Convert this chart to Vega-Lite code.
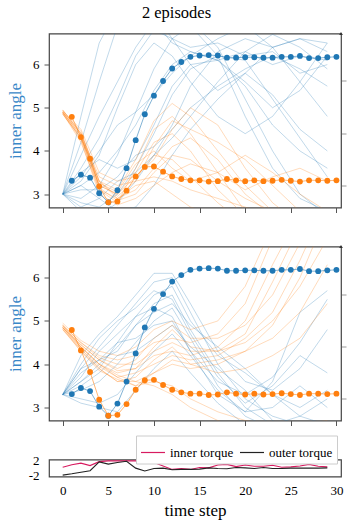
{
"$schema":"https://vega.github.io/schema/vega-lite/v6.json",
"padding":{"left":5,"top":4.5,"right":5,"bottom":5},
"title":{"text":"2 episodes","anchor":"middle","font":"Liberation Serif, serif","fontSize":16.5,"fontWeight":"normal","color":"#000","offset":10},
"config":{
 "font":"Liberation Serif, serif",
 "view":{"stroke":"#444","strokeWidth":1.2},
 "axis":{"grid":false,"domain":false,"tickColor":"#555","tickSize":5,"labelFont":"Liberation Serif, serif","labelFontSize":13,"labelColor":"#000","titleFont":"Liberation Serif, serif","titleFontWeight":"normal","titleColor":"#000","labelPadding":5},
 "legend":{"labelFont":"Liberation Serif, serif"}
},
"datasets":{
"traj":[
{"p":1,"g":"b","id":"b1","x":0,"y":3.0},{"p":1,"g":"b","id":"b1","x":2,"y":4.2},{"p":1,"g":"b","id":"b1","x":4,"y":5.6},{"p":1,"g":"b","id":"b1","x":6,"y":6.9},{"p":1,"g":"b","id":"b1","x":8,"y":7.2},{"p":1,"g":"b","id":"b1","x":10,"y":7.0},{"p":1,"g":"b","id":"b1","x":12,"y":6.5},{"p":1,"g":"b","id":"b1","x":14,"y":6.3},{"p":1,"g":"b","id":"b1","x":17,"y":6.1},{"p":1,"g":"b","id":"b1","x":20,"y":5.5},{"p":1,"g":"b","id":"b1","x":23,"y":4.6},{"p":1,"g":"b","id":"b1","x":26,"y":4.0},{"p":1,"g":"b","id":"b1","x":29,"y":3.6},
{"p":1,"g":"b","id":"b2","x":0,"y":3.0},{"p":1,"g":"b","id":"b2","x":2,"y":3.6},{"p":1,"g":"b","id":"b2","x":4,"y":4.3},{"p":1,"g":"b","id":"b2","x":6,"y":5.2},{"p":1,"g":"b","id":"b2","x":8,"y":6.2},{"p":1,"g":"b","id":"b2","x":10,"y":6.8},{"p":1,"g":"b","id":"b2","x":12,"y":6.6},{"p":1,"g":"b","id":"b2","x":14,"y":6.4},{"p":1,"g":"b","id":"b2","x":17,"y":6.5},{"p":1,"g":"b","id":"b2","x":20,"y":6.2},{"p":1,"g":"b","id":"b2","x":23,"y":6.3},{"p":1,"g":"b","id":"b2","x":26,"y":5.8},{"p":1,"g":"b","id":"b2","x":29,"y":6.0},
{"p":1,"g":"b","id":"b3","x":0,"y":3.0},{"p":1,"g":"b","id":"b3","x":2,"y":3.2},{"p":1,"g":"b","id":"b3","x":4,"y":3.5},{"p":1,"g":"b","id":"b3","x":6,"y":4.0},{"p":1,"g":"b","id":"b3","x":8,"y":4.6},{"p":1,"g":"b","id":"b3","x":10,"y":5.4},{"p":1,"g":"b","id":"b3","x":12,"y":6.0},{"p":1,"g":"b","id":"b3","x":14,"y":6.3},{"p":1,"g":"b","id":"b3","x":17,"y":6.1},{"p":1,"g":"b","id":"b3","x":20,"y":6.3},{"p":1,"g":"b","id":"b3","x":23,"y":6.0},{"p":1,"g":"b","id":"b3","x":26,"y":6.2},{"p":1,"g":"b","id":"b3","x":29,"y":6.1},
{"p":1,"g":"b","id":"b4","x":0,"y":3.0},{"p":1,"g":"b","id":"b4","x":2,"y":2.8},{"p":1,"g":"b","id":"b4","x":4,"y":2.7},{"p":1,"g":"b","id":"b4","x":6,"y":3.0},{"p":1,"g":"b","id":"b4","x":8,"y":3.6},{"p":1,"g":"b","id":"b4","x":10,"y":4.4},{"p":1,"g":"b","id":"b4","x":12,"y":5.3},{"p":1,"g":"b","id":"b4","x":14,"y":5.9},{"p":1,"g":"b","id":"b4","x":17,"y":6.2},{"p":1,"g":"b","id":"b4","x":20,"y":6.1},{"p":1,"g":"b","id":"b4","x":23,"y":5.2},{"p":1,"g":"b","id":"b4","x":26,"y":4.3},{"p":1,"g":"b","id":"b4","x":29,"y":3.4},
{"p":1,"g":"b","id":"b5","x":0,"y":3.0},{"p":1,"g":"b","id":"b5","x":2,"y":3.4},{"p":1,"g":"b","id":"b5","x":4,"y":4.0},{"p":1,"g":"b","id":"b5","x":6,"y":4.6},{"p":1,"g":"b","id":"b5","x":8,"y":4.9},{"p":1,"g":"b","id":"b5","x":10,"y":5.3},{"p":1,"g":"b","id":"b5","x":12,"y":5.8},{"p":1,"g":"b","id":"b5","x":14,"y":6.2},{"p":1,"g":"b","id":"b5","x":17,"y":6.6},{"p":1,"g":"b","id":"b5","x":20,"y":6.9},{"p":1,"g":"b","id":"b5","x":23,"y":6.4},{"p":1,"g":"b","id":"b5","x":26,"y":5.6},{"p":1,"g":"b","id":"b5","x":29,"y":4.8},
{"p":1,"g":"b","id":"b6","x":0,"y":3.0},{"p":1,"g":"b","id":"b6","x":2,"y":2.6},{"p":1,"g":"b","id":"b6","x":4,"y":2.5},{"p":1,"g":"b","id":"b6","x":6,"y":2.8},{"p":1,"g":"b","id":"b6","x":8,"y":3.3},{"p":1,"g":"b","id":"b6","x":10,"y":3.9},{"p":1,"g":"b","id":"b6","x":12,"y":4.6},{"p":1,"g":"b","id":"b6","x":14,"y":5.5},{"p":1,"g":"b","id":"b6","x":17,"y":6.3},{"p":1,"g":"b","id":"b6","x":20,"y":6.6},{"p":1,"g":"b","id":"b6","x":23,"y":6.4},{"p":1,"g":"b","id":"b6","x":26,"y":6.6},{"p":1,"g":"b","id":"b6","x":29,"y":6.5},
{"p":1,"g":"b","id":"b7","x":0,"y":3.0},{"p":1,"g":"b","id":"b7","x":2,"y":3.9},{"p":1,"g":"b","id":"b7","x":4,"y":4.8},{"p":1,"g":"b","id":"b7","x":6,"y":5.6},{"p":1,"g":"b","id":"b7","x":8,"y":6.4},{"p":1,"g":"b","id":"b7","x":10,"y":7.0},{"p":1,"g":"b","id":"b7","x":12,"y":7.2},{"p":1,"g":"b","id":"b7","x":14,"y":7.0},{"p":1,"g":"b","id":"b7","x":17,"y":6.4},{"p":1,"g":"b","id":"b7","x":20,"y":5.2},{"p":1,"g":"b","id":"b7","x":23,"y":4.0},{"p":1,"g":"b","id":"b7","x":26,"y":3.0},{"p":1,"g":"b","id":"b7","x":29,"y":2.5},
{"p":1,"g":"b","id":"b8","x":0,"y":3.0},{"p":1,"g":"b","id":"b8","x":2,"y":3.1},{"p":1,"g":"b","id":"b8","x":4,"y":3.1},{"p":1,"g":"b","id":"b8","x":6,"y":3.4},{"p":1,"g":"b","id":"b8","x":8,"y":3.9},{"p":1,"g":"b","id":"b8","x":10,"y":4.1},{"p":1,"g":"b","id":"b8","x":12,"y":4.5},{"p":1,"g":"b","id":"b8","x":14,"y":5.0},{"p":1,"g":"b","id":"b8","x":17,"y":5.5},{"p":1,"g":"b","id":"b8","x":20,"y":5.9},{"p":1,"g":"b","id":"b8","x":23,"y":6.2},{"p":1,"g":"b","id":"b8","x":26,"y":5.9},{"p":1,"g":"b","id":"b8","x":29,"y":5.5},
{"p":1,"g":"b","id":"b9","x":0,"y":3.0},{"p":1,"g":"b","id":"b9","x":2,"y":3.5},{"p":1,"g":"b","id":"b9","x":4,"y":3.8},{"p":1,"g":"b","id":"b9","x":6,"y":3.6},{"p":1,"g":"b","id":"b9","x":8,"y":3.8},{"p":1,"g":"b","id":"b9","x":10,"y":4.6},{"p":1,"g":"b","id":"b9","x":12,"y":5.5},{"p":1,"g":"b","id":"b9","x":14,"y":6.0},{"p":1,"g":"b","id":"b9","x":17,"y":6.1},{"p":1,"g":"b","id":"b9","x":20,"y":5.6},{"p":1,"g":"b","id":"b9","x":23,"y":5.0},{"p":1,"g":"b","id":"b9","x":26,"y":5.4},{"p":1,"g":"b","id":"b9","x":29,"y":6.2},
{"p":1,"g":"b","id":"b10","x":0,"y":3.0},{"p":1,"g":"b","id":"b10","x":2,"y":2.9},{"p":1,"g":"b","id":"b10","x":4,"y":3.2},{"p":1,"g":"b","id":"b10","x":6,"y":3.9},{"p":1,"g":"b","id":"b10","x":8,"y":4.9},{"p":1,"g":"b","id":"b10","x":10,"y":5.9},{"p":1,"g":"b","id":"b10","x":12,"y":6.6},{"p":1,"g":"b","id":"b10","x":14,"y":6.9},{"p":1,"g":"b","id":"b10","x":17,"y":6.2},{"p":1,"g":"b","id":"b10","x":20,"y":4.8},{"p":1,"g":"b","id":"b10","x":23,"y":3.6},{"p":1,"g":"b","id":"b10","x":26,"y":2.9},{"p":1,"g":"b","id":"b10","x":29,"y":2.6},
{"p":1,"g":"b","id":"b11","x":0,"y":3.0},{"p":1,"g":"b","id":"b11","x":2,"y":3.3},{"p":1,"g":"b","id":"b11","x":4,"y":3.9},{"p":1,"g":"b","id":"b11","x":6,"y":5.0},{"p":1,"g":"b","id":"b11","x":8,"y":6.0},{"p":1,"g":"b","id":"b11","x":10,"y":6.5},{"p":1,"g":"b","id":"b11","x":12,"y":6.2},{"p":1,"g":"b","id":"b11","x":14,"y":5.6},{"p":1,"g":"b","id":"b11","x":17,"y":4.8},{"p":1,"g":"b","id":"b11","x":20,"y":4.4},{"p":1,"g":"b","id":"b11","x":23,"y":4.8},{"p":1,"g":"b","id":"b11","x":26,"y":5.6},{"p":1,"g":"b","id":"b11","x":29,"y":6.5},
{"p":1,"g":"b","id":"b12","x":0,"y":3.0},{"p":1,"g":"b","id":"b12","x":2,"y":2.7},{"p":1,"g":"b","id":"b12","x":4,"y":2.9},{"p":1,"g":"b","id":"b12","x":6,"y":3.3},{"p":1,"g":"b","id":"b12","x":8,"y":3.5},{"p":1,"g":"b","id":"b12","x":10,"y":3.9},{"p":1,"g":"b","id":"b12","x":12,"y":4.3},{"p":1,"g":"b","id":"b12","x":14,"y":4.8},{"p":1,"g":"b","id":"b12","x":17,"y":5.6},{"p":1,"g":"b","id":"b12","x":20,"y":6.3},{"p":1,"g":"b","id":"b12","x":23,"y":6.7},{"p":1,"g":"b","id":"b12","x":26,"y":6.4},{"p":1,"g":"b","id":"b12","x":29,"y":5.9},
{"p":1,"g":"b","id":"b13","x":0,"y":3.0},{"p":1,"g":"b","id":"b13","x":2,"y":4.8},{"p":1,"g":"b","id":"b13","x":4,"y":6.5},{"p":1,"g":"b","id":"b13","x":6,"y":7.3},{"p":1,"g":"b","id":"b13","x":8,"y":7.5},{"p":1,"g":"b","id":"b13","x":10,"y":7.2},{"p":1,"g":"b","id":"b13","x":12,"y":6.6},{"p":1,"g":"b","id":"b13","x":14,"y":6.0},{"p":1,"g":"b","id":"b13","x":17,"y":5.4},{"p":1,"g":"b","id":"b13","x":20,"y":5.8},{"p":1,"g":"b","id":"b13","x":23,"y":6.4},{"p":1,"g":"b","id":"b13","x":26,"y":6.6},{"p":1,"g":"b","id":"b13","x":29,"y":6.3},
{"p":1,"g":"b","id":"b14","x":0,"y":3.0},{"p":1,"g":"b","id":"b14","x":2,"y":3.2},{"p":1,"g":"b","id":"b14","x":4,"y":2.9},{"p":1,"g":"b","id":"b14","x":6,"y":2.6},{"p":1,"g":"b","id":"b14","x":8,"y":2.7},{"p":1,"g":"b","id":"b14","x":10,"y":3.2},{"p":1,"g":"b","id":"b14","x":12,"y":3.9},{"p":1,"g":"b","id":"b14","x":14,"y":4.5},{"p":1,"g":"b","id":"b14","x":17,"y":5.2},{"p":1,"g":"b","id":"b14","x":20,"y":5.8},{"p":1,"g":"b","id":"b14","x":23,"y":5.3},{"p":1,"g":"b","id":"b14","x":26,"y":4.5},{"p":1,"g":"b","id":"b14","x":29,"y":4.0},
{"p":1,"g":"o","id":"o1","x":0,"y":4.9},{"p":1,"g":"o","id":"o1","x":2,"y":4.35},{"p":1,"g":"o","id":"o1","x":4,"y":3.2},{"p":1,"g":"o","id":"o1","x":6,"y":3.0},{"p":1,"g":"o","id":"o1","x":8,"y":3.4},{"p":1,"g":"o","id":"o1","x":10,"y":3.9},{"p":1,"g":"o","id":"o1","x":12,"y":3.8},{"p":1,"g":"o","id":"o1","x":14,"y":3.4},{"p":1,"g":"o","id":"o1","x":17,"y":2.8},{"p":1,"g":"o","id":"o1","x":20,"y":2.3},{"p":1,"g":"o","id":"o1","x":23,"y":2.0},{"p":1,"g":"o","id":"o1","x":26,"y":2.0},{"p":1,"g":"o","id":"o1","x":29,"y":2.0},
{"p":1,"g":"o","id":"o2","x":0,"y":4.95},{"p":1,"g":"o","id":"o2","x":2,"y":4.4},{"p":1,"g":"o","id":"o2","x":4,"y":3.3},{"p":1,"g":"o","id":"o2","x":6,"y":2.9},{"p":1,"g":"o","id":"o2","x":8,"y":3.1},{"p":1,"g":"o","id":"o2","x":10,"y":3.6},{"p":1,"g":"o","id":"o2","x":12,"y":4.1},{"p":1,"g":"o","id":"o2","x":14,"y":4.3},{"p":1,"g":"o","id":"o2","x":17,"y":3.8},{"p":1,"g":"o","id":"o2","x":20,"y":3.0},{"p":1,"g":"o","id":"o2","x":23,"y":2.5},{"p":1,"g":"o","id":"o2","x":26,"y":2.2},{"p":1,"g":"o","id":"o2","x":29,"y":2.0},
{"p":1,"g":"o","id":"o3","x":0,"y":4.85},{"p":1,"g":"o","id":"o3","x":2,"y":4.3},{"p":1,"g":"o","id":"o3","x":4,"y":3.1},{"p":1,"g":"o","id":"o3","x":6,"y":2.8},{"p":1,"g":"o","id":"o3","x":8,"y":3.6},{"p":1,"g":"o","id":"o3","x":10,"y":4.5},{"p":1,"g":"o","id":"o3","x":12,"y":4.8},{"p":1,"g":"o","id":"o3","x":14,"y":4.4},{"p":1,"g":"o","id":"o3","x":17,"y":3.5},{"p":1,"g":"o","id":"o3","x":20,"y":2.6},{"p":1,"g":"o","id":"o3","x":23,"y":2.2},{"p":1,"g":"o","id":"o3","x":26,"y":2.0},{"p":1,"g":"o","id":"o3","x":29,"y":2.0},
{"p":1,"g":"o","id":"o4","x":0,"y":4.9},{"p":1,"g":"o","id":"o4","x":2,"y":4.4},{"p":1,"g":"o","id":"o4","x":4,"y":3.4},{"p":1,"g":"o","id":"o4","x":6,"y":3.2},{"p":1,"g":"o","id":"o4","x":8,"y":3.3},{"p":1,"g":"o","id":"o4","x":10,"y":3.4},{"p":1,"g":"o","id":"o4","x":12,"y":3.3},{"p":1,"g":"o","id":"o4","x":14,"y":3.1},{"p":1,"g":"o","id":"o4","x":17,"y":2.9},{"p":1,"g":"o","id":"o4","x":20,"y":2.7},{"p":1,"g":"o","id":"o4","x":23,"y":2.5},{"p":1,"g":"o","id":"o4","x":26,"y":2.3},{"p":1,"g":"o","id":"o4","x":29,"y":2.2},
{"p":1,"g":"o","id":"o5","x":0,"y":4.92},{"p":1,"g":"o","id":"o5","x":2,"y":4.45},{"p":1,"g":"o","id":"o5","x":4,"y":3.3},{"p":1,"g":"o","id":"o5","x":6,"y":3.1},{"p":1,"g":"o","id":"o5","x":8,"y":3.8},{"p":1,"g":"o","id":"o5","x":10,"y":4.7},{"p":1,"g":"o","id":"o5","x":12,"y":5.1},{"p":1,"g":"o","id":"o5","x":14,"y":4.8},{"p":1,"g":"o","id":"o5","x":17,"y":4.0},{"p":1,"g":"o","id":"o5","x":20,"y":3.2},{"p":1,"g":"o","id":"o5","x":23,"y":2.6},{"p":1,"g":"o","id":"o5","x":26,"y":2.3},{"p":1,"g":"o","id":"o5","x":29,"y":2.1},
{"p":1,"g":"o","id":"o6","x":0,"y":4.88},{"p":1,"g":"o","id":"o6","x":2,"y":4.25},{"p":1,"g":"o","id":"o6","x":4,"y":3.0},{"p":1,"g":"o","id":"o6","x":6,"y":2.75},{"p":1,"g":"o","id":"o6","x":8,"y":2.9},{"p":1,"g":"o","id":"o6","x":10,"y":3.2},{"p":1,"g":"o","id":"o6","x":12,"y":3.5},{"p":1,"g":"o","id":"o6","x":14,"y":3.7},{"p":1,"g":"o","id":"o6","x":17,"y":3.5},{"p":1,"g":"o","id":"o6","x":20,"y":3.1},{"p":1,"g":"o","id":"o6","x":23,"y":3.4},{"p":1,"g":"o","id":"o6","x":26,"y":3.6},{"p":1,"g":"o","id":"o6","x":29,"y":3.3},
{"p":1,"g":"o","id":"o7","x":0,"y":4.9},{"p":1,"g":"o","id":"o7","x":2,"y":4.3},{"p":1,"g":"o","id":"o7","x":4,"y":3.2},{"p":1,"g":"o","id":"o7","x":6,"y":3.0},{"p":1,"g":"o","id":"o7","x":8,"y":3.5},{"p":1,"g":"o","id":"o7","x":10,"y":4.2},{"p":1,"g":"o","id":"o7","x":12,"y":4.4},{"p":1,"g":"o","id":"o7","x":14,"y":4.0},{"p":1,"g":"o","id":"o7","x":17,"y":3.1},{"p":1,"g":"o","id":"o7","x":20,"y":2.5},{"p":1,"g":"o","id":"o7","x":23,"y":2.1},{"p":1,"g":"o","id":"o7","x":26,"y":2.0},{"p":1,"g":"o","id":"o7","x":29,"y":2.0},
{"p":1,"g":"o","id":"o8","x":0,"y":4.93},{"p":1,"g":"o","id":"o8","x":2,"y":4.5},{"p":1,"g":"o","id":"o8","x":4,"y":3.5},{"p":1,"g":"o","id":"o8","x":6,"y":3.3},{"p":1,"g":"o","id":"o8","x":8,"y":3.4},{"p":1,"g":"o","id":"o8","x":10,"y":3.8},{"p":1,"g":"o","id":"o8","x":12,"y":4.5},{"p":1,"g":"o","id":"o8","x":14,"y":5.0},{"p":1,"g":"o","id":"o8","x":17,"y":4.6},{"p":1,"g":"o","id":"o8","x":20,"y":3.6},{"p":1,"g":"o","id":"o8","x":23,"y":2.8},{"p":1,"g":"o","id":"o8","x":26,"y":2.3},{"p":1,"g":"o","id":"o8","x":29,"y":2.0},
{"p":1,"g":"o","id":"o9","x":0,"y":4.87},{"p":1,"g":"o","id":"o9","x":2,"y":4.2},{"p":1,"g":"o","id":"o9","x":4,"y":3.1},{"p":1,"g":"o","id":"o9","x":6,"y":2.9},{"p":1,"g":"o","id":"o9","x":8,"y":3.2},{"p":1,"g":"o","id":"o9","x":10,"y":3.3},{"p":1,"g":"o","id":"o9","x":12,"y":3.0},{"p":1,"g":"o","id":"o9","x":14,"y":2.7},{"p":1,"g":"o","id":"o9","x":17,"y":2.5},{"p":1,"g":"o","id":"o9","x":20,"y":2.3},{"p":1,"g":"o","id":"o9","x":23,"y":2.2},{"p":1,"g":"o","id":"o9","x":26,"y":2.1},{"p":1,"g":"o","id":"o9","x":29,"y":2.0},
{"p":1,"g":"o","id":"o10","x":0,"y":4.9},{"p":1,"g":"o","id":"o10","x":2,"y":4.35},{"p":1,"g":"o","id":"o10","x":4,"y":3.25},{"p":1,"g":"o","id":"o10","x":6,"y":3.05},{"p":1,"g":"o","id":"o10","x":8,"y":3.7},{"p":1,"g":"o","id":"o10","x":10,"y":4.0},{"p":1,"g":"o","id":"o10","x":12,"y":3.6},{"p":1,"g":"o","id":"o10","x":14,"y":3.3},{"p":1,"g":"o","id":"o10","x":17,"y":3.5},{"p":1,"g":"o","id":"o10","x":20,"y":3.9},{"p":1,"g":"o","id":"o10","x":23,"y":3.5},{"p":1,"g":"o","id":"o10","x":26,"y":3.0},{"p":1,"g":"o","id":"o10","x":29,"y":2.6},
{"p":1,"g":"o","id":"o11","x":0,"y":4.95},{"p":1,"g":"o","id":"o11","x":2,"y":4.4},{"p":1,"g":"o","id":"o11","x":4,"y":3.3},{"p":1,"g":"o","id":"o11","x":6,"y":2.95},{"p":1,"g":"o","id":"o11","x":8,"y":3.3},{"p":1,"g":"o","id":"o11","x":10,"y":4.1},{"p":1,"g":"o","id":"o11","x":12,"y":4.7},{"p":1,"g":"o","id":"o11","x":14,"y":4.5},{"p":1,"g":"o","id":"o11","x":17,"y":4.2},{"p":1,"g":"o","id":"o11","x":20,"y":3.8},{"p":1,"g":"o","id":"o11","x":23,"y":3.2},{"p":1,"g":"o","id":"o11","x":26,"y":2.6},{"p":1,"g":"o","id":"o11","x":29,"y":2.2},
{"p":1,"g":"o","id":"o12","x":0,"y":4.86},{"p":1,"g":"o","id":"o12","x":2,"y":4.3},{"p":1,"g":"o","id":"o12","x":4,"y":3.15},{"p":1,"g":"o","id":"o12","x":6,"y":2.85},{"p":1,"g":"o","id":"o12","x":8,"y":3.0},{"p":1,"g":"o","id":"o12","x":10,"y":3.5},{"p":1,"g":"o","id":"o12","x":12,"y":3.9},{"p":1,"g":"o","id":"o12","x":14,"y":3.8},{"p":1,"g":"o","id":"o12","x":17,"y":3.3},{"p":1,"g":"o","id":"o12","x":20,"y":2.9},{"p":1,"g":"o","id":"o12","x":23,"y":2.6},{"p":1,"g":"o","id":"o12","x":26,"y":2.4},{"p":1,"g":"o","id":"o12","x":29,"y":2.3},
{"p":2,"g":"b","id":"c1","x":0,"y":3.3},{"p":2,"g":"b","id":"c1","x":2,"y":3.9},{"p":2,"g":"b","id":"c1","x":4,"y":4.4},{"p":2,"g":"b","id":"c1","x":6,"y":4.9},{"p":2,"g":"b","id":"c1","x":8,"y":5.4},{"p":2,"g":"b","id":"c1","x":10,"y":5.9},{"p":2,"g":"b","id":"c1","x":12,"y":6.0},{"p":2,"g":"b","id":"c1","x":14,"y":5.2},{"p":2,"g":"b","id":"c1","x":17,"y":4.0},{"p":2,"g":"b","id":"c1","x":20,"y":3.2},{"p":2,"g":"b","id":"c1","x":23,"y":2.8},{"p":2,"g":"b","id":"c1","x":26,"y":2.6},{"p":2,"g":"b","id":"c1","x":29,"y":2.5},
{"p":2,"g":"b","id":"c2","x":0,"y":3.3},{"p":2,"g":"b","id":"c2","x":2,"y":3.6},{"p":2,"g":"b","id":"c2","x":4,"y":4.0},{"p":2,"g":"b","id":"c2","x":6,"y":4.4},{"p":2,"g":"b","id":"c2","x":8,"y":4.9},{"p":2,"g":"b","id":"c2","x":10,"y":5.4},{"p":2,"g":"b","id":"c2","x":12,"y":5.6},{"p":2,"g":"b","id":"c2","x":14,"y":4.8},{"p":2,"g":"b","id":"c2","x":17,"y":3.8},{"p":2,"g":"b","id":"c2","x":20,"y":3.0},{"p":2,"g":"b","id":"c2","x":23,"y":2.6},{"p":2,"g":"b","id":"c2","x":26,"y":2.8},{"p":2,"g":"b","id":"c2","x":29,"y":3.2},
{"p":2,"g":"b","id":"c3","x":0,"y":3.3},{"p":2,"g":"b","id":"c3","x":2,"y":4.2},{"p":2,"g":"b","id":"c3","x":4,"y":4.7},{"p":2,"g":"b","id":"c3","x":6,"y":5.1},{"p":2,"g":"b","id":"c3","x":8,"y":5.6},{"p":2,"g":"b","id":"c3","x":10,"y":6.1},{"p":2,"g":"b","id":"c3","x":12,"y":6.1},{"p":2,"g":"b","id":"c3","x":14,"y":5.4},{"p":2,"g":"b","id":"c3","x":17,"y":4.3},{"p":2,"g":"b","id":"c3","x":20,"y":3.6},{"p":2,"g":"b","id":"c3","x":23,"y":3.4},{"p":2,"g":"b","id":"c3","x":26,"y":3.9},{"p":2,"g":"b","id":"c3","x":29,"y":4.8},
{"p":2,"g":"b","id":"c4","x":0,"y":3.3},{"p":2,"g":"b","id":"c4","x":2,"y":3.4},{"p":2,"g":"b","id":"c4","x":4,"y":3.6},{"p":2,"g":"b","id":"c4","x":6,"y":4.0},{"p":2,"g":"b","id":"c4","x":8,"y":4.5},{"p":2,"g":"b","id":"c4","x":10,"y":5.0},{"p":2,"g":"b","id":"c4","x":12,"y":5.3},{"p":2,"g":"b","id":"c4","x":14,"y":4.6},{"p":2,"g":"b","id":"c4","x":17,"y":3.5},{"p":2,"g":"b","id":"c4","x":20,"y":2.8},{"p":2,"g":"b","id":"c4","x":23,"y":2.5},{"p":2,"g":"b","id":"c4","x":26,"y":2.4},{"p":2,"g":"b","id":"c4","x":29,"y":2.5},
{"p":2,"g":"b","id":"c5","x":0,"y":3.3},{"p":2,"g":"b","id":"c5","x":2,"y":3.8},{"p":2,"g":"b","id":"c5","x":4,"y":4.1},{"p":2,"g":"b","id":"c5","x":6,"y":4.5},{"p":2,"g":"b","id":"c5","x":8,"y":4.6},{"p":2,"g":"b","id":"c5","x":10,"y":4.9},{"p":2,"g":"b","id":"c5","x":12,"y":5.0},{"p":2,"g":"b","id":"c5","x":14,"y":4.3},{"p":2,"g":"b","id":"c5","x":17,"y":3.6},{"p":2,"g":"b","id":"c5","x":20,"y":3.3},{"p":2,"g":"b","id":"c5","x":23,"y":3.7},{"p":2,"g":"b","id":"c5","x":26,"y":4.5},{"p":2,"g":"b","id":"c5","x":29,"y":5.5},
{"p":2,"g":"b","id":"c6","x":0,"y":3.3},{"p":2,"g":"b","id":"c6","x":2,"y":3.2},{"p":2,"g":"b","id":"c6","x":4,"y":3.1},{"p":2,"g":"b","id":"c6","x":6,"y":3.3},{"p":2,"g":"b","id":"c6","x":8,"y":3.8},{"p":2,"g":"b","id":"c6","x":10,"y":4.3},{"p":2,"g":"b","id":"c6","x":12,"y":4.7},{"p":2,"g":"b","id":"c6","x":14,"y":4.2},{"p":2,"g":"b","id":"c6","x":17,"y":3.4},{"p":2,"g":"b","id":"c6","x":20,"y":2.9},{"p":2,"g":"b","id":"c6","x":23,"y":3.0},{"p":2,"g":"b","id":"c6","x":26,"y":3.5},{"p":2,"g":"b","id":"c6","x":29,"y":3.0},
{"p":2,"g":"b","id":"c7","x":0,"y":3.3},{"p":2,"g":"b","id":"c7","x":2,"y":3.7},{"p":2,"g":"b","id":"c7","x":4,"y":4.3},{"p":2,"g":"b","id":"c7","x":6,"y":4.7},{"p":2,"g":"b","id":"c7","x":8,"y":5.1},{"p":2,"g":"b","id":"c7","x":10,"y":5.6},{"p":2,"g":"b","id":"c7","x":12,"y":5.8},{"p":2,"g":"b","id":"c7","x":14,"y":5.0},{"p":2,"g":"b","id":"c7","x":17,"y":4.2},{"p":2,"g":"b","id":"c7","x":20,"y":3.8},{"p":2,"g":"b","id":"c7","x":23,"y":3.3},{"p":2,"g":"b","id":"c7","x":26,"y":2.8},{"p":2,"g":"b","id":"c7","x":29,"y":2.6},
{"p":2,"g":"b","id":"c8","x":0,"y":3.3},{"p":2,"g":"b","id":"c8","x":2,"y":3.5},{"p":2,"g":"b","id":"c8","x":4,"y":3.8},{"p":2,"g":"b","id":"c8","x":6,"y":4.2},{"p":2,"g":"b","id":"c8","x":8,"y":4.3},{"p":2,"g":"b","id":"c8","x":10,"y":4.6},{"p":2,"g":"b","id":"c8","x":12,"y":4.9},{"p":2,"g":"b","id":"c8","x":14,"y":4.4},{"p":2,"g":"b","id":"c8","x":17,"y":3.9},{"p":2,"g":"b","id":"c8","x":20,"y":3.4},{"p":2,"g":"b","id":"c8","x":23,"y":2.7},{"p":2,"g":"b","id":"c8","x":26,"y":2.4},{"p":2,"g":"b","id":"c8","x":29,"y":2.3},
{"p":2,"g":"b","id":"c9","x":0,"y":3.3},{"p":2,"g":"b","id":"c9","x":2,"y":4.0},{"p":2,"g":"b","id":"c9","x":4,"y":4.6},{"p":2,"g":"b","id":"c9","x":6,"y":5.0},{"p":2,"g":"b","id":"c9","x":8,"y":5.3},{"p":2,"g":"b","id":"c9","x":10,"y":5.7},{"p":2,"g":"b","id":"c9","x":12,"y":5.5},{"p":2,"g":"b","id":"c9","x":14,"y":4.7},{"p":2,"g":"b","id":"c9","x":17,"y":3.7},{"p":2,"g":"b","id":"c9","x":20,"y":3.1},{"p":2,"g":"b","id":"c9","x":23,"y":3.5},{"p":2,"g":"b","id":"c9","x":26,"y":4.2},{"p":2,"g":"b","id":"c9","x":29,"y":3.8},
{"p":2,"g":"b","id":"c10","x":0,"y":3.3},{"p":2,"g":"b","id":"c10","x":2,"y":3.1},{"p":2,"g":"b","id":"c10","x":4,"y":3.0},{"p":2,"g":"b","id":"c10","x":6,"y":2.9},{"p":2,"g":"b","id":"c10","x":8,"y":3.4},{"p":2,"g":"b","id":"c10","x":10,"y":3.9},{"p":2,"g":"b","id":"c10","x":12,"y":4.3},{"p":2,"g":"b","id":"c10","x":14,"y":3.8},{"p":2,"g":"b","id":"c10","x":17,"y":3.1},{"p":2,"g":"b","id":"c10","x":20,"y":2.6},{"p":2,"g":"b","id":"c10","x":23,"y":2.4},{"p":2,"g":"b","id":"c10","x":26,"y":2.3},{"p":2,"g":"b","id":"c10","x":29,"y":2.2},
{"p":2,"g":"b","id":"c11","x":0,"y":3.3},{"p":2,"g":"b","id":"c11","x":2,"y":3.6},{"p":2,"g":"b","id":"c11","x":4,"y":3.9},{"p":2,"g":"b","id":"c11","x":6,"y":4.5},{"p":2,"g":"b","id":"c11","x":8,"y":5.1},{"p":2,"g":"b","id":"c11","x":10,"y":5.3},{"p":2,"g":"b","id":"c11","x":12,"y":5.1},{"p":2,"g":"b","id":"c11","x":14,"y":4.3},{"p":2,"g":"b","id":"c11","x":17,"y":3.3},{"p":2,"g":"b","id":"c11","x":20,"y":2.9},{"p":2,"g":"b","id":"c11","x":23,"y":3.6},{"p":2,"g":"b","id":"c11","x":26,"y":5.2},{"p":2,"g":"b","id":"c11","x":29,"y":5.7},
{"p":2,"g":"b","id":"c12","x":0,"y":3.3},{"p":2,"g":"b","id":"c12","x":2,"y":3.9},{"p":2,"g":"b","id":"c12","x":4,"y":4.1},{"p":2,"g":"b","id":"c12","x":6,"y":4.3},{"p":2,"g":"b","id":"c12","x":8,"y":4.9},{"p":2,"g":"b","id":"c12","x":10,"y":5.2},{"p":2,"g":"b","id":"c12","x":12,"y":5.4},{"p":2,"g":"b","id":"c12","x":14,"y":4.9},{"p":2,"g":"b","id":"c12","x":17,"y":4.4},{"p":2,"g":"b","id":"c12","x":20,"y":3.9},{"p":2,"g":"b","id":"c12","x":23,"y":3.3},{"p":2,"g":"b","id":"c12","x":26,"y":3.0},{"p":2,"g":"b","id":"c12","x":29,"y":3.4},
{"p":2,"g":"o","id":"q1","x":0,"y":4.85},{"p":2,"g":"o","id":"q1","x":2,"y":4.4},{"p":2,"g":"o","id":"q1","x":4,"y":4.0},{"p":2,"g":"o","id":"q1","x":6,"y":3.8},{"p":2,"g":"o","id":"q1","x":8,"y":3.9},{"p":2,"g":"o","id":"q1","x":10,"y":4.2},{"p":2,"g":"o","id":"q1","x":12,"y":4.3},{"p":2,"g":"o","id":"q1","x":14,"y":4.2},{"p":2,"g":"o","id":"q1","x":17,"y":4.4},{"p":2,"g":"o","id":"q1","x":20,"y":5.0},{"p":2,"g":"o","id":"q1","x":23,"y":6.3},{"p":2,"g":"o","id":"q1","x":26,"y":7.5},{"p":2,"g":"o","id":"q1","x":29,"y":8.0},
{"p":2,"g":"o","id":"q2","x":0,"y":4.9},{"p":2,"g":"o","id":"q2","x":2,"y":4.5},{"p":2,"g":"o","id":"q2","x":4,"y":4.2},{"p":2,"g":"o","id":"q2","x":6,"y":4.1},{"p":2,"g":"o","id":"q2","x":8,"y":4.2},{"p":2,"g":"o","id":"q2","x":10,"y":4.5},{"p":2,"g":"o","id":"q2","x":12,"y":4.6},{"p":2,"g":"o","id":"q2","x":14,"y":4.5},{"p":2,"g":"o","id":"q2","x":17,"y":4.7},{"p":2,"g":"o","id":"q2","x":20,"y":5.4},{"p":2,"g":"o","id":"q2","x":23,"y":6.9},{"p":2,"g":"o","id":"q2","x":26,"y":7.8},{"p":2,"g":"o","id":"q2","x":29,"y":8.0},
{"p":2,"g":"o","id":"q3","x":0,"y":4.8},{"p":2,"g":"o","id":"q3","x":2,"y":4.3},{"p":2,"g":"o","id":"q3","x":4,"y":3.9},{"p":2,"g":"o","id":"q3","x":6,"y":3.6},{"p":2,"g":"o","id":"q3","x":8,"y":3.6},{"p":2,"g":"o","id":"q3","x":10,"y":3.8},{"p":2,"g":"o","id":"q3","x":12,"y":4.0},{"p":2,"g":"o","id":"q3","x":14,"y":3.9},{"p":2,"g":"o","id":"q3","x":17,"y":4.0},{"p":2,"g":"o","id":"q3","x":20,"y":4.3},{"p":2,"g":"o","id":"q3","x":23,"y":4.9},{"p":2,"g":"o","id":"q3","x":26,"y":6.0},{"p":2,"g":"o","id":"q3","x":29,"y":7.5},
{"p":2,"g":"o","id":"q4","x":0,"y":4.85},{"p":2,"g":"o","id":"q4","x":2,"y":4.45},{"p":2,"g":"o","id":"q4","x":4,"y":4.1},{"p":2,"g":"o","id":"q4","x":6,"y":3.9},{"p":2,"g":"o","id":"q4","x":8,"y":4.1},{"p":2,"g":"o","id":"q4","x":10,"y":4.6},{"p":2,"g":"o","id":"q4","x":12,"y":4.9},{"p":2,"g":"o","id":"q4","x":14,"y":4.6},{"p":2,"g":"o","id":"q4","x":17,"y":4.6},{"p":2,"g":"o","id":"q4","x":20,"y":4.9},{"p":2,"g":"o","id":"q4","x":23,"y":5.6},{"p":2,"g":"o","id":"q4","x":26,"y":6.8},{"p":2,"g":"o","id":"q4","x":29,"y":8.0},
{"p":2,"g":"o","id":"q5","x":0,"y":4.9},{"p":2,"g":"o","id":"q5","x":2,"y":4.4},{"p":2,"g":"o","id":"q5","x":4,"y":4.0},{"p":2,"g":"o","id":"q5","x":6,"y":3.7},{"p":2,"g":"o","id":"q5","x":8,"y":3.5},{"p":2,"g":"o","id":"q5","x":10,"y":3.6},{"p":2,"g":"o","id":"q5","x":12,"y":3.5},{"p":2,"g":"o","id":"q5","x":14,"y":3.2},{"p":2,"g":"o","id":"q5","x":17,"y":2.9},{"p":2,"g":"o","id":"q5","x":20,"y":2.7},{"p":2,"g":"o","id":"q5","x":23,"y":2.6},{"p":2,"g":"o","id":"q5","x":26,"y":2.6},{"p":2,"g":"o","id":"q5","x":29,"y":2.7},
{"p":2,"g":"o","id":"q6","x":0,"y":4.95},{"p":2,"g":"o","id":"q6","x":2,"y":4.55},{"p":2,"g":"o","id":"q6","x":4,"y":4.3},{"p":2,"g":"o","id":"q6","x":6,"y":4.2},{"p":2,"g":"o","id":"q6","x":8,"y":4.4},{"p":2,"g":"o","id":"q6","x":10,"y":4.8},{"p":2,"g":"o","id":"q6","x":12,"y":5.0},{"p":2,"g":"o","id":"q6","x":14,"y":4.8},{"p":2,"g":"o","id":"q6","x":17,"y":5.0},{"p":2,"g":"o","id":"q6","x":20,"y":5.8},{"p":2,"g":"o","id":"q6","x":23,"y":7.2},{"p":2,"g":"o","id":"q6","x":26,"y":8.0},{"p":2,"g":"o","id":"q6","x":29,"y":8.0},
{"p":2,"g":"o","id":"q7","x":0,"y":4.8},{"p":2,"g":"o","id":"q7","x":2,"y":4.35},{"p":2,"g":"o","id":"q7","x":4,"y":3.95},{"p":2,"g":"o","id":"q7","x":6,"y":3.7},{"p":2,"g":"o","id":"q7","x":8,"y":3.8},{"p":2,"g":"o","id":"q7","x":10,"y":4.0},{"p":2,"g":"o","id":"q7","x":12,"y":4.2},{"p":2,"g":"o","id":"q7","x":14,"y":4.1},{"p":2,"g":"o","id":"q7","x":17,"y":4.2},{"p":2,"g":"o","id":"q7","x":20,"y":4.6},{"p":2,"g":"o","id":"q7","x":23,"y":5.2},{"p":2,"g":"o","id":"q7","x":26,"y":6.4},{"p":2,"g":"o","id":"q7","x":29,"y":7.8},
{"p":2,"g":"o","id":"q8","x":0,"y":4.85},{"p":2,"g":"o","id":"q8","x":2,"y":4.4},{"p":2,"g":"o","id":"q8","x":4,"y":4.0},{"p":2,"g":"o","id":"q8","x":6,"y":3.75},{"p":2,"g":"o","id":"q8","x":8,"y":3.6},{"p":2,"g":"o","id":"q8","x":10,"y":3.5},{"p":2,"g":"o","id":"q8","x":12,"y":3.3},{"p":2,"g":"o","id":"q8","x":14,"y":3.0},{"p":2,"g":"o","id":"q8","x":17,"y":2.7},{"p":2,"g":"o","id":"q8","x":20,"y":2.5},{"p":2,"g":"o","id":"q8","x":23,"y":2.5},{"p":2,"g":"o","id":"q8","x":26,"y":2.6},{"p":2,"g":"o","id":"q8","x":29,"y":2.6},
{"p":2,"g":"o","id":"q9","x":0,"y":4.9},{"p":2,"g":"o","id":"q9","x":2,"y":4.5},{"p":2,"g":"o","id":"q9","x":4,"y":4.15},{"p":2,"g":"o","id":"q9","x":6,"y":4.0},{"p":2,"g":"o","id":"q9","x":8,"y":4.0},{"p":2,"g":"o","id":"q9","x":10,"y":4.3},{"p":2,"g":"o","id":"q9","x":12,"y":4.5},{"p":2,"g":"o","id":"q9","x":14,"y":4.3},{"p":2,"g":"o","id":"q9","x":17,"y":4.3},{"p":2,"g":"o","id":"q9","x":20,"y":4.7},{"p":2,"g":"o","id":"q9","x":23,"y":5.9},{"p":2,"g":"o","id":"q9","x":26,"y":7.2},{"p":2,"g":"o","id":"q9","x":29,"y":8.0},
{"p":2,"g":"o","id":"q10","x":0,"y":4.85},{"p":2,"g":"o","id":"q10","x":2,"y":4.35},{"p":2,"g":"o","id":"q10","x":4,"y":3.9},{"p":2,"g":"o","id":"q10","x":6,"y":3.6},{"p":2,"g":"o","id":"q10","x":8,"y":3.7},{"p":2,"g":"o","id":"q10","x":10,"y":4.1},{"p":2,"g":"o","id":"q10","x":12,"y":4.4},{"p":2,"g":"o","id":"q10","x":14,"y":4.0},{"p":2,"g":"o","id":"q10","x":17,"y":3.8},{"p":2,"g":"o","id":"q10","x":20,"y":3.9},{"p":2,"g":"o","id":"q10","x":23,"y":4.2},{"p":2,"g":"o","id":"q10","x":26,"y":4.6},{"p":2,"g":"o","id":"q10","x":29,"y":5.4},
{"p":2,"g":"o","id":"q11","x":0,"y":4.88},{"p":2,"g":"o","id":"q11","x":2,"y":4.45},{"p":2,"g":"o","id":"q11","x":4,"y":4.1},{"p":2,"g":"o","id":"q11","x":6,"y":3.85},{"p":2,"g":"o","id":"q11","x":8,"y":3.9},{"p":2,"g":"o","id":"q11","x":10,"y":4.4},{"p":2,"g":"o","id":"q11","x":12,"y":4.8},{"p":2,"g":"o","id":"q11","x":14,"y":4.4},{"p":2,"g":"o","id":"q11","x":17,"y":4.3},{"p":2,"g":"o","id":"q11","x":20,"y":4.5},{"p":2,"g":"o","id":"q11","x":23,"y":5.0},{"p":2,"g":"o","id":"q11","x":26,"y":5.8},{"p":2,"g":"o","id":"q11","x":29,"y":6.9},
{"p":2,"g":"o","id":"q12","x":0,"y":4.83},{"p":2,"g":"o","id":"q12","x":2,"y":4.3},{"p":2,"g":"o","id":"q12","x":4,"y":3.85},{"p":2,"g":"o","id":"q12","x":6,"y":3.65},{"p":2,"g":"o","id":"q12","x":8,"y":3.5},{"p":2,"g":"o","id":"q12","x":10,"y":3.8},{"p":2,"g":"o","id":"q12","x":12,"y":4.1},{"p":2,"g":"o","id":"q12","x":14,"y":4.0},{"p":2,"g":"o","id":"q12","x":17,"y":4.1},{"p":2,"g":"o","id":"q12","x":20,"y":4.3},{"p":2,"g":"o","id":"q12","x":23,"y":4.6},{"p":2,"g":"o","id":"q12","x":26,"y":5.2},{"p":2,"g":"o","id":"q12","x":29,"y":6.3}
],
"marks":[
{"g":"b","x":1,"y":3.31},{"g":"b","x":2,"y":3.45},{"g":"b","x":3,"y":3.38},{"g":"b","x":4,"y":3.02},{"g":"b","x":5,"y":2.81},{"g":"b","x":6,"y":3.09},{"g":"b","x":7,"y":3.6},{"g":"b","x":8,"y":4.25},{"g":"b","x":9,"y":4.85},{"g":"b","x":10,"y":5.28},{"g":"b","x":11,"y":5.62},{"g":"b","x":12,"y":5.91},{"g":"b","x":13,"y":6.06},{"g":"b","x":14,"y":6.18},{"g":"b","x":15,"y":6.21},{"g":"b","x":16,"y":6.22},{"g":"b","x":17,"y":6.21},{"g":"b","x":18,"y":6.16},{"g":"b","x":19,"y":6.16},{"g":"b","x":20,"y":6.17},{"g":"b","x":21,"y":6.17},{"g":"b","x":22,"y":6.16},{"g":"b","x":23,"y":6.16},{"g":"b","x":24,"y":6.18},{"g":"b","x":25,"y":6.18},{"g":"b","x":26,"y":6.2},{"g":"b","x":27,"y":6.15},{"g":"b","x":28,"y":6.15},{"g":"b","x":29,"y":6.17},{"g":"b","x":30,"y":6.18},
{"g":"o","x":1,"y":4.79},{"g":"o","x":2,"y":4.32},{"g":"o","x":3,"y":3.82},{"g":"o","x":4,"y":3.18},{"g":"o","x":5,"y":2.81},{"g":"o","x":6,"y":2.83},{"g":"o","x":7,"y":3.08},{"g":"o","x":8,"y":3.41},{"g":"o","x":9,"y":3.63},{"g":"o","x":10,"y":3.64},{"g":"o","x":11,"y":3.52},{"g":"o","x":12,"y":3.41},{"g":"o","x":13,"y":3.35},{"g":"o","x":14,"y":3.32},{"g":"o","x":15,"y":3.32},{"g":"o","x":16,"y":3.29},{"g":"o","x":17,"y":3.3},{"g":"o","x":18,"y":3.35},{"g":"o","x":19,"y":3.32},{"g":"o","x":20,"y":3.3},{"g":"o","x":21,"y":3.32},{"g":"o","x":22,"y":3.3},{"g":"o","x":23,"y":3.31},{"g":"o","x":24,"y":3.33},{"g":"o","x":25,"y":3.31},{"g":"o","x":26,"y":3.29},{"g":"o","x":27,"y":3.32},{"g":"o","x":28,"y":3.32},{"g":"o","x":29,"y":3.31},{"g":"o","x":30,"y":3.32}
],
"torque":[
{"s":"inner torque","t":0,"v":0.22},{"s":"inner torque","t":1,"v":0.93},{"s":"inner torque","t":2,"v":1.38},{"s":"inner torque","t":3,"v":0.67},{"s":"inner torque","t":4,"v":1.8},{"s":"inner torque","t":5,"v":2.0},{"s":"inner torque","t":6,"v":2.0},{"s":"inner torque","t":7,"v":2.0},{"s":"inner torque","t":8,"v":2.0},{"s":"inner torque","t":9,"v":2.0},{"s":"inner torque","t":10,"v":1.56},{"s":"inner torque","t":11,"v":0.58},{"s":"inner torque","t":12,"v":-0.4},{"s":"inner torque","t":13,"v":-0.13},{"s":"inner torque","t":14,"v":-0.4},{"s":"inner torque","t":15,"v":0.13},{"s":"inner torque","t":16,"v":0.04},{"s":"inner torque","t":17,"v":0.84},{"s":"inner torque","t":18,"v":1.02},{"s":"inner torque","t":19,"v":0.4},{"s":"inner torque","t":20,"v":0.84},{"s":"inner torque","t":21,"v":0.49},{"s":"inner torque","t":22,"v":0.49},{"s":"inner torque","t":23,"v":0.76},{"s":"inner torque","t":24,"v":0.22},{"s":"inner torque","t":25,"v":0.31},{"s":"inner torque","t":26,"v":0.58},{"s":"inner torque","t":27,"v":1.02},{"s":"inner torque","t":28,"v":0.49},{"s":"inner torque","t":29,"v":0.31},
{"s":"outer torque","t":0,"v":-2.0},{"s":"outer torque","t":1,"v":-1.64},{"s":"outer torque","t":2,"v":-1.2},{"s":"outer torque","t":3,"v":-0.76},{"s":"outer torque","t":4,"v":1.73},{"s":"outer torque","t":5,"v":1.11},{"s":"outer torque","t":6,"v":1.56},{"s":"outer torque","t":7,"v":1.91},{"s":"outer torque","t":8,"v":-0.04},{"s":"outer torque","t":9,"v":-0.84},{"s":"outer torque","t":10,"v":-0.13},{"s":"outer torque","t":11,"v":-0.04},{"s":"outer torque","t":12,"v":-0.49},{"s":"outer torque","t":13,"v":-0.4},{"s":"outer torque","t":14,"v":-0.4},{"s":"outer torque","t":15,"v":-0.31},{"s":"outer torque","t":16,"v":0.04},{"s":"outer torque","t":17,"v":-0.13},{"s":"outer torque","t":18,"v":-0.22},{"s":"outer torque","t":19,"v":0.13},{"s":"outer torque","t":20,"v":0.04},{"s":"outer torque","t":21,"v":-0.13},{"s":"outer torque","t":22,"v":0.13},{"s":"outer torque","t":23,"v":-0.13},{"s":"outer torque","t":24,"v":-0.13},{"s":"outer torque","t":25,"v":-0.04},{"s":"outer torque","t":26,"v":-0.04},{"s":"outer torque","t":27,"v":-0.04},{"s":"outer torque","t":28,"v":-0.04},{"s":"outer torque","t":29,"v":0.04}
],
"arrow":[{"x":30.5,"y":6.72}]
},
"resolve":{"scale":{"color":"independent"}},
"spacing":39,
"bounds":"flush",
"vconcat":[
{
 "width":292,"height":174,
 "resolve":{"axis":{"y":"independent"}},
 "layer":[
  {"data":{"name":"traj"},"transform":[{"filter":"datum.p==1"}],
   "mark":{"type":"line","clip":true,"strokeWidth":1,"opacity":0.28},
   "encoding":{
    "x":{"field":"x","type":"quantitative","scale":{"domain":[-1.5,30.5],"nice":false},"axis":{"values":[0,5,10,15,20,25,30],"labels":false,"title":null}},
    "y":{"field":"y","type":"quantitative","scale":{"domain":[2.69,6.72],"nice":false,"zero":false},"axis":{"values":[3,4,5,6],"title":"inner angle","titleColor":"#3a88c8","titleFontSize":17,"titlePadding":8}},
    "color":{"field":"g","type":"nominal","scale":{"domain":["b","o"],"range":["#1f77b4","#ff7f0e"]},"legend":null},
    "detail":{"field":"id"}
   }},
  {"data":{"name":"marks"},
   "mark":{"type":"line","strokeWidth":0.8,"opacity":0.7},
   "encoding":{
    "x":{"field":"x","type":"quantitative"},
    "y":{"field":"y","type":"quantitative","axis":null},
    "color":{"field":"g","type":"nominal","legend":null}
   }},
  {"data":{"name":"marks"},
   "mark":{"type":"circle","size":34,"opacity":1},
   "encoding":{
    "x":{"field":"x","type":"quantitative"},
    "y":{"field":"y","type":"quantitative","axis":{"orient":"right","values":[3.21,4.41,5.62],"labels":false,"domain":true,"domainColor":"#555","tickColor":"#999","tickSize":5,"title":null}},
    "color":{"field":"g","type":"nominal","legend":null}
   }},
  {"data":{"name":"arrow"},
   "mark":{"type":"point","shape":"triangle-up","filled":true,"size":14,"color":"#333","opacity":1},
   "encoding":{
    "x":{"field":"x","type":"quantitative"},
    "y":{"field":"y","type":"quantitative","axis":null}
   }}
 ]
},
{
 "width":292,"height":174,
 "resolve":{"axis":{"y":"independent"}},
 "layer":[
  {"data":{"name":"traj"},"transform":[{"filter":"datum.p==2"}],
   "mark":{"type":"line","clip":true,"strokeWidth":1,"opacity":0.28},
   "encoding":{
    "x":{"field":"x","type":"quantitative","scale":{"domain":[-1.5,30.5],"nice":false},"axis":{"values":[0,5,10,15,20,25,30],"labels":false,"title":null}},
    "y":{"field":"y","type":"quantitative","scale":{"domain":[2.7,6.72],"nice":false,"zero":false},"axis":{"values":[3,4,5,6],"title":"inner angle","titleColor":"#3a88c8","titleFontSize":17,"titlePadding":8}},
    "color":{"field":"g","type":"nominal","scale":{"domain":["b","o"],"range":["#1f77b4","#ff7f0e"]},"legend":null},
    "detail":{"field":"id"}
   }},
  {"data":{"name":"marks"},
   "mark":{"type":"line","strokeWidth":0.8,"opacity":0.7},
   "encoding":{
    "x":{"field":"x","type":"quantitative"},
    "y":{"field":"y","type":"quantitative","axis":null},
    "color":{"field":"g","type":"nominal","legend":null}
   }},
  {"data":{"name":"marks"},
   "mark":{"type":"circle","size":34,"opacity":1},
   "encoding":{
    "x":{"field":"x","type":"quantitative"},
    "y":{"field":"y","type":"quantitative","axis":{"orient":"right","values":[3.21,4.41,5.62],"labels":false,"domain":true,"domainColor":"#555","tickColor":"#999","tickSize":5,"title":null}},
    "color":{"field":"g","type":"nominal","legend":null}
   }},
  {"data":{"name":"arrow"},
   "mark":{"type":"point","shape":"triangle-up","filled":true,"size":14,"color":"#333","opacity":1},
   "encoding":{
    "x":{"field":"x","type":"quantitative"},
    "y":{"field":"y","type":"quantitative","axis":null}
   }}
 ]
},
{
 "width":292,"height":17,
 "data":{"name":"torque"},
 "mark":{"type":"line","strokeWidth":1.1},
 "encoding":{
  "x":{"field":"t","type":"quantitative","scale":{"domain":[-1.5,30.5],"nice":false},"axis":{"values":[0,5,10,15,20,25,30],"title":"time step","titleFontSize":17,"tickSize":0,"labelPadding":8,"titlePadding":5}},
  "y":{"field":"v","type":"quantitative","scale":{"domain":[-2.4,2.4],"nice":false},"axis":{"values":[-2,2],"title":null,"tickSize":0,"labelPadding":10,"labelExpr":"datum.value < 0 ? '-2' : '2'"}},
  "color":{"field":"s","type":"nominal","scale":{"domain":["inner torque","outer torque"],"range":["#d81b60","#222222"]},
   "legend":{"title":null,"orient":"none","legendX":87,"legendY":-24,"direction":"horizontal","symbolType":"stroke","symbolSize":576,"symbolStrokeWidth":1.2,"labelFontSize":13,"labelFont":"Liberation Serif, serif","labelColor":"#000","strokeColor":"#ccc","fillColor":"white","padding":4,"columnPadding":3,"labelOffset":4}}
 }
}
]
}
